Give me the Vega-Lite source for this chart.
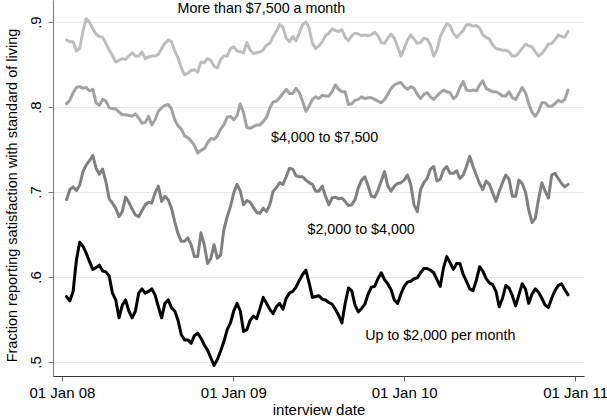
{
"$schema":"https://vega.github.io/schema/vega-lite/v6.json",
"width":531,"height":376,
"autosize":{"type":"none"},
"padding":{"left":53,"top":0,"right":23,"bottom":40},
"background":"white",
"config":{"view":{"stroke":null},"font":"Liberation Sans"},
"datasets":{
"a":[{"d":"2008-01-11","v":0.879},{"d":"2008-01-18","v":0.877},{"d":"2008-01-25","v":0.877},{"d":"2008-02-01","v":0.866},{"d":"2008-02-08","v":0.869},{"d":"2008-02-15","v":0.889},{"d":"2008-02-22","v":0.904},{"d":"2008-02-29","v":0.900},{"d":"2008-03-07","v":0.892},{"d":"2008-03-14","v":0.886},{"d":"2008-03-21","v":0.883},{"d":"2008-03-28","v":0.882},{"d":"2008-04-04","v":0.875},{"d":"2008-04-11","v":0.867},{"d":"2008-04-18","v":0.861},{"d":"2008-04-25","v":0.853},{"d":"2008-05-02","v":0.855},{"d":"2008-05-09","v":0.857},{"d":"2008-05-16","v":0.856},{"d":"2008-05-23","v":0.860},{"d":"2008-05-30","v":0.864},{"d":"2008-06-06","v":0.860},{"d":"2008-06-13","v":0.860},{"d":"2008-06-20","v":0.865},{"d":"2008-06-27","v":0.857},{"d":"2008-07-04","v":0.859},{"d":"2008-07-11","v":0.860},{"d":"2008-07-18","v":0.860},{"d":"2008-07-25","v":0.862},{"d":"2008-08-01","v":0.869},{"d":"2008-08-08","v":0.875},{"d":"2008-08-15","v":0.879},{"d":"2008-08-22","v":0.877},{"d":"2008-08-29","v":0.866},{"d":"2008-09-05","v":0.858},{"d":"2008-09-12","v":0.846},{"d":"2008-09-19","v":0.838},{"d":"2008-09-26","v":0.840},{"d":"2008-10-03","v":0.843},{"d":"2008-10-10","v":0.844},{"d":"2008-10-17","v":0.841},{"d":"2008-10-24","v":0.853},{"d":"2008-10-31","v":0.852},{"d":"2008-11-07","v":0.857},{"d":"2008-11-14","v":0.855},{"d":"2008-11-21","v":0.848},{"d":"2008-11-28","v":0.846},{"d":"2008-12-05","v":0.856},{"d":"2008-12-12","v":0.860},{"d":"2008-12-19","v":0.860},{"d":"2008-12-26","v":0.869},{"d":"2009-01-02","v":0.871},{"d":"2009-01-09","v":0.866},{"d":"2009-01-16","v":0.865},{"d":"2009-01-23","v":0.864},{"d":"2009-01-30","v":0.876},{"d":"2009-02-06","v":0.867},{"d":"2009-02-13","v":0.863},{"d":"2009-02-20","v":0.864},{"d":"2009-02-27","v":0.865},{"d":"2009-03-06","v":0.867},{"d":"2009-03-13","v":0.873},{"d":"2009-03-20","v":0.875},{"d":"2009-03-27","v":0.883},{"d":"2009-04-03","v":0.889},{"d":"2009-04-10","v":0.897},{"d":"2009-04-17","v":0.894},{"d":"2009-04-24","v":0.881},{"d":"2009-05-01","v":0.877},{"d":"2009-05-08","v":0.883},{"d":"2009-05-15","v":0.878},{"d":"2009-05-22","v":0.887},{"d":"2009-05-29","v":0.897},{"d":"2009-06-05","v":0.900},{"d":"2009-06-12","v":0.893},{"d":"2009-06-19","v":0.875},{"d":"2009-06-26","v":0.869},{"d":"2009-07-03","v":0.872},{"d":"2009-07-10","v":0.877},{"d":"2009-07-17","v":0.884},{"d":"2009-07-24","v":0.887},{"d":"2009-07-31","v":0.892},{"d":"2009-08-07","v":0.890},{"d":"2009-08-14","v":0.889},{"d":"2009-08-21","v":0.891},{"d":"2009-08-28","v":0.882},{"d":"2009-09-04","v":0.878},{"d":"2009-09-11","v":0.884},{"d":"2009-09-18","v":0.887},{"d":"2009-09-25","v":0.886},{"d":"2009-10-02","v":0.884},{"d":"2009-10-09","v":0.885},{"d":"2009-10-16","v":0.884},{"d":"2009-10-23","v":0.885},{"d":"2009-10-30","v":0.888},{"d":"2009-11-06","v":0.884},{"d":"2009-11-13","v":0.876},{"d":"2009-11-20","v":0.875},{"d":"2009-11-27","v":0.881},{"d":"2009-12-04","v":0.886},{"d":"2009-12-11","v":0.881},{"d":"2009-12-18","v":0.871},{"d":"2009-12-25","v":0.860},{"d":"2010-01-01","v":0.869},{"d":"2010-01-08","v":0.879},{"d":"2010-01-15","v":0.885},{"d":"2010-01-22","v":0.880},{"d":"2010-01-29","v":0.875},{"d":"2010-02-05","v":0.876},{"d":"2010-02-12","v":0.881},{"d":"2010-02-19","v":0.880},{"d":"2010-02-26","v":0.873},{"d":"2010-03-05","v":0.860},{"d":"2010-03-12","v":0.867},{"d":"2010-03-19","v":0.883},{"d":"2010-03-26","v":0.891},{"d":"2010-04-02","v":0.898},{"d":"2010-04-09","v":0.896},{"d":"2010-04-16","v":0.887},{"d":"2010-04-23","v":0.882},{"d":"2010-04-30","v":0.886},{"d":"2010-05-07","v":0.890},{"d":"2010-05-14","v":0.897},{"d":"2010-05-21","v":0.897},{"d":"2010-05-28","v":0.895},{"d":"2010-06-04","v":0.896},{"d":"2010-06-11","v":0.893},{"d":"2010-06-18","v":0.885},{"d":"2010-06-25","v":0.882},{"d":"2010-07-02","v":0.880},{"d":"2010-07-09","v":0.873},{"d":"2010-07-16","v":0.869},{"d":"2010-07-23","v":0.868},{"d":"2010-07-30","v":0.867},{"d":"2010-08-06","v":0.867},{"d":"2010-08-13","v":0.865},{"d":"2010-08-20","v":0.860},{"d":"2010-08-27","v":0.860},{"d":"2010-09-03","v":0.864},{"d":"2010-09-10","v":0.869},{"d":"2010-09-17","v":0.874},{"d":"2010-09-24","v":0.872},{"d":"2010-10-01","v":0.871},{"d":"2010-10-08","v":0.865},{"d":"2010-10-15","v":0.860},{"d":"2010-10-22","v":0.863},{"d":"2010-10-29","v":0.868},{"d":"2010-11-05","v":0.874},{"d":"2010-11-12","v":0.875},{"d":"2010-11-19","v":0.879},{"d":"2010-11-26","v":0.885},{"d":"2010-12-03","v":0.883},{"d":"2010-12-10","v":0.882},{"d":"2010-12-17","v":0.889}],
"b":[{"d":"2008-01-11","v":0.804},{"d":"2008-01-18","v":0.808},{"d":"2008-01-25","v":0.817},{"d":"2008-02-01","v":0.823},{"d":"2008-02-08","v":0.824},{"d":"2008-02-15","v":0.822},{"d":"2008-02-22","v":0.823},{"d":"2008-02-29","v":0.819},{"d":"2008-03-07","v":0.821},{"d":"2008-03-14","v":0.805},{"d":"2008-03-21","v":0.802},{"d":"2008-03-28","v":0.809},{"d":"2008-04-04","v":0.807},{"d":"2008-04-11","v":0.799},{"d":"2008-04-18","v":0.798},{"d":"2008-04-25","v":0.798},{"d":"2008-05-02","v":0.794},{"d":"2008-05-09","v":0.791},{"d":"2008-05-16","v":0.791},{"d":"2008-05-23","v":0.790},{"d":"2008-05-30","v":0.789},{"d":"2008-06-06","v":0.792},{"d":"2008-06-13","v":0.787},{"d":"2008-06-20","v":0.781},{"d":"2008-06-27","v":0.782},{"d":"2008-07-04","v":0.789},{"d":"2008-07-11","v":0.779},{"d":"2008-07-18","v":0.785},{"d":"2008-07-25","v":0.795},{"d":"2008-08-01","v":0.799},{"d":"2008-08-08","v":0.802},{"d":"2008-08-15","v":0.803},{"d":"2008-08-22","v":0.798},{"d":"2008-08-29","v":0.785},{"d":"2008-09-05","v":0.778},{"d":"2008-09-12","v":0.774},{"d":"2008-09-19","v":0.766},{"d":"2008-09-26","v":0.764},{"d":"2008-10-03","v":0.760},{"d":"2008-10-10","v":0.755},{"d":"2008-10-17","v":0.746},{"d":"2008-10-24","v":0.749},{"d":"2008-10-31","v":0.751},{"d":"2008-11-07","v":0.758},{"d":"2008-11-14","v":0.763},{"d":"2008-11-21","v":0.762},{"d":"2008-11-28","v":0.766},{"d":"2008-12-05","v":0.774},{"d":"2008-12-12","v":0.779},{"d":"2008-12-19","v":0.788},{"d":"2008-12-26","v":0.789},{"d":"2009-01-02","v":0.785},{"d":"2009-01-09","v":0.790},{"d":"2009-01-16","v":0.804},{"d":"2009-01-23","v":0.793},{"d":"2009-01-30","v":0.776},{"d":"2009-02-06","v":0.775},{"d":"2009-02-13","v":0.777},{"d":"2009-02-20","v":0.779},{"d":"2009-02-27","v":0.779},{"d":"2009-03-06","v":0.783},{"d":"2009-03-13","v":0.788},{"d":"2009-03-20","v":0.799},{"d":"2009-03-27","v":0.806},{"d":"2009-04-03","v":0.807},{"d":"2009-04-10","v":0.811},{"d":"2009-04-17","v":0.816},{"d":"2009-04-24","v":0.821},{"d":"2009-05-01","v":0.816},{"d":"2009-05-08","v":0.816},{"d":"2009-05-15","v":0.822},{"d":"2009-05-22","v":0.817},{"d":"2009-05-29","v":0.807},{"d":"2009-06-05","v":0.795},{"d":"2009-06-12","v":0.801},{"d":"2009-06-19","v":0.809},{"d":"2009-06-26","v":0.812},{"d":"2009-07-03","v":0.810},{"d":"2009-07-10","v":0.814},{"d":"2009-07-17","v":0.813},{"d":"2009-07-24","v":0.813},{"d":"2009-07-31","v":0.818},{"d":"2009-08-07","v":0.826},{"d":"2009-08-14","v":0.821},{"d":"2009-08-21","v":0.818},{"d":"2009-08-28","v":0.818},{"d":"2009-09-04","v":0.803},{"d":"2009-09-11","v":0.804},{"d":"2009-09-18","v":0.808},{"d":"2009-09-25","v":0.809},{"d":"2009-10-02","v":0.812},{"d":"2009-10-09","v":0.810},{"d":"2009-10-16","v":0.811},{"d":"2009-10-23","v":0.811},{"d":"2009-10-30","v":0.809},{"d":"2009-11-06","v":0.807},{"d":"2009-11-13","v":0.805},{"d":"2009-11-20","v":0.809},{"d":"2009-11-27","v":0.815},{"d":"2009-12-04","v":0.822},{"d":"2009-12-11","v":0.826},{"d":"2009-12-18","v":0.828},{"d":"2009-12-25","v":0.829},{"d":"2010-01-01","v":0.824},{"d":"2010-01-08","v":0.821},{"d":"2010-01-15","v":0.824},{"d":"2010-01-22","v":0.822},{"d":"2010-01-29","v":0.815},{"d":"2010-02-05","v":0.810},{"d":"2010-02-12","v":0.815},{"d":"2010-02-19","v":0.817},{"d":"2010-02-26","v":0.812},{"d":"2010-03-05","v":0.809},{"d":"2010-03-12","v":0.813},{"d":"2010-03-19","v":0.817},{"d":"2010-03-26","v":0.820},{"d":"2010-04-02","v":0.818},{"d":"2010-04-09","v":0.817},{"d":"2010-04-16","v":0.810},{"d":"2010-04-23","v":0.813},{"d":"2010-04-30","v":0.823},{"d":"2010-05-07","v":0.830},{"d":"2010-05-14","v":0.820},{"d":"2010-05-21","v":0.819},{"d":"2010-05-28","v":0.820},{"d":"2010-06-04","v":0.819},{"d":"2010-06-11","v":0.826},{"d":"2010-06-18","v":0.831},{"d":"2010-06-25","v":0.822},{"d":"2010-07-02","v":0.820},{"d":"2010-07-09","v":0.818},{"d":"2010-07-16","v":0.818},{"d":"2010-07-23","v":0.816},{"d":"2010-07-30","v":0.813},{"d":"2010-08-06","v":0.813},{"d":"2010-08-13","v":0.818},{"d":"2010-08-20","v":0.811},{"d":"2010-08-27","v":0.809},{"d":"2010-09-03","v":0.816},{"d":"2010-09-10","v":0.823},{"d":"2010-09-17","v":0.817},{"d":"2010-09-24","v":0.804},{"d":"2010-10-01","v":0.794},{"d":"2010-10-08","v":0.789},{"d":"2010-10-15","v":0.795},{"d":"2010-10-22","v":0.805},{"d":"2010-10-29","v":0.805},{"d":"2010-11-05","v":0.801},{"d":"2010-11-12","v":0.801},{"d":"2010-11-19","v":0.804},{"d":"2010-11-26","v":0.808},{"d":"2010-12-03","v":0.806},{"d":"2010-12-10","v":0.809},{"d":"2010-12-17","v":0.820}],
"c":[{"d":"2008-01-11","v":0.691},{"d":"2008-01-18","v":0.703},{"d":"2008-01-25","v":0.706},{"d":"2008-02-01","v":0.702},{"d":"2008-02-08","v":0.708},{"d":"2008-02-15","v":0.724},{"d":"2008-02-22","v":0.732},{"d":"2008-02-29","v":0.737},{"d":"2008-03-07","v":0.743},{"d":"2008-03-14","v":0.728},{"d":"2008-03-21","v":0.721},{"d":"2008-03-28","v":0.727},{"d":"2008-04-04","v":0.712},{"d":"2008-04-11","v":0.692},{"d":"2008-04-18","v":0.687},{"d":"2008-04-25","v":0.681},{"d":"2008-05-02","v":0.671},{"d":"2008-05-09","v":0.677},{"d":"2008-05-16","v":0.694},{"d":"2008-05-23","v":0.688},{"d":"2008-05-30","v":0.680},{"d":"2008-06-06","v":0.673},{"d":"2008-06-13","v":0.671},{"d":"2008-06-20","v":0.678},{"d":"2008-06-27","v":0.685},{"d":"2008-07-04","v":0.688},{"d":"2008-07-11","v":0.687},{"d":"2008-07-18","v":0.699},{"d":"2008-07-25","v":0.707},{"d":"2008-08-01","v":0.689},{"d":"2008-08-08","v":0.695},{"d":"2008-08-15","v":0.691},{"d":"2008-08-22","v":0.681},{"d":"2008-08-29","v":0.665},{"d":"2008-09-05","v":0.651},{"d":"2008-09-12","v":0.642},{"d":"2008-09-19","v":0.642},{"d":"2008-09-26","v":0.646},{"d":"2008-10-03","v":0.638},{"d":"2008-10-10","v":0.624},{"d":"2008-10-17","v":0.624},{"d":"2008-10-24","v":0.652},{"d":"2008-10-31","v":0.638},{"d":"2008-11-07","v":0.616},{"d":"2008-11-14","v":0.622},{"d":"2008-11-21","v":0.638},{"d":"2008-11-28","v":0.622},{"d":"2008-12-05","v":0.626},{"d":"2008-12-12","v":0.656},{"d":"2008-12-19","v":0.671},{"d":"2008-12-26","v":0.683},{"d":"2009-01-02","v":0.699},{"d":"2009-01-09","v":0.709},{"d":"2009-01-16","v":0.701},{"d":"2009-01-23","v":0.685},{"d":"2009-01-30","v":0.690},{"d":"2009-02-06","v":0.688},{"d":"2009-02-13","v":0.682},{"d":"2009-02-20","v":0.676},{"d":"2009-02-27","v":0.675},{"d":"2009-03-06","v":0.681},{"d":"2009-03-13","v":0.677},{"d":"2009-03-20","v":0.685},{"d":"2009-03-27","v":0.701},{"d":"2009-04-03","v":0.705},{"d":"2009-04-10","v":0.711},{"d":"2009-04-17","v":0.709},{"d":"2009-04-24","v":0.718},{"d":"2009-05-01","v":0.728},{"d":"2009-05-08","v":0.727},{"d":"2009-05-15","v":0.719},{"d":"2009-05-22","v":0.718},{"d":"2009-05-29","v":0.718},{"d":"2009-06-05","v":0.714},{"d":"2009-06-12","v":0.711},{"d":"2009-06-19","v":0.709},{"d":"2009-06-26","v":0.701},{"d":"2009-07-03","v":0.701},{"d":"2009-07-10","v":0.707},{"d":"2009-07-17","v":0.695},{"d":"2009-07-24","v":0.685},{"d":"2009-07-31","v":0.693},{"d":"2009-08-07","v":0.694},{"d":"2009-08-14","v":0.692},{"d":"2009-08-21","v":0.693},{"d":"2009-08-28","v":0.689},{"d":"2009-09-04","v":0.684},{"d":"2009-09-11","v":0.685},{"d":"2009-09-18","v":0.691},{"d":"2009-09-25","v":0.705},{"d":"2009-10-02","v":0.714},{"d":"2009-10-09","v":0.718},{"d":"2009-10-16","v":0.707},{"d":"2009-10-23","v":0.695},{"d":"2009-10-30","v":0.694},{"d":"2009-11-06","v":0.702},{"d":"2009-11-13","v":0.713},{"d":"2009-11-20","v":0.724},{"d":"2009-11-27","v":0.707},{"d":"2009-12-04","v":0.701},{"d":"2009-12-11","v":0.707},{"d":"2009-12-18","v":0.710},{"d":"2009-12-25","v":0.711},{"d":"2010-01-01","v":0.714},{"d":"2010-01-08","v":0.720},{"d":"2010-01-15","v":0.709},{"d":"2010-01-22","v":0.685},{"d":"2010-01-29","v":0.677},{"d":"2010-02-05","v":0.703},{"d":"2010-02-12","v":0.711},{"d":"2010-02-19","v":0.716},{"d":"2010-02-26","v":0.727},{"d":"2010-03-05","v":0.730},{"d":"2010-03-12","v":0.713},{"d":"2010-03-19","v":0.715},{"d":"2010-03-26","v":0.726},{"d":"2010-04-02","v":0.730},{"d":"2010-04-09","v":0.722},{"d":"2010-04-16","v":0.722},{"d":"2010-04-23","v":0.725},{"d":"2010-04-30","v":0.716},{"d":"2010-05-07","v":0.720},{"d":"2010-05-14","v":0.730},{"d":"2010-05-21","v":0.742},{"d":"2010-05-28","v":0.730},{"d":"2010-06-04","v":0.720},{"d":"2010-06-11","v":0.710},{"d":"2010-06-18","v":0.703},{"d":"2010-06-25","v":0.713},{"d":"2010-07-02","v":0.709},{"d":"2010-07-09","v":0.699},{"d":"2010-07-16","v":0.689},{"d":"2010-07-23","v":0.701},{"d":"2010-07-30","v":0.711},{"d":"2010-08-06","v":0.720},{"d":"2010-08-13","v":0.715},{"d":"2010-08-20","v":0.695},{"d":"2010-08-27","v":0.695},{"d":"2010-09-03","v":0.714},{"d":"2010-09-10","v":0.710},{"d":"2010-09-17","v":0.700},{"d":"2010-09-24","v":0.679},{"d":"2010-10-01","v":0.664},{"d":"2010-10-08","v":0.669},{"d":"2010-10-15","v":0.692},{"d":"2010-10-22","v":0.711},{"d":"2010-10-29","v":0.701},{"d":"2010-11-05","v":0.693},{"d":"2010-11-12","v":0.720},{"d":"2010-11-19","v":0.722},{"d":"2010-11-26","v":0.716},{"d":"2010-12-03","v":0.710},{"d":"2010-12-10","v":0.706},{"d":"2010-12-17","v":0.709}],
"e":[{"d":"2008-01-11","v":0.577},{"d":"2008-01-18","v":0.572},{"d":"2008-01-25","v":0.583},{"d":"2008-02-01","v":0.620},{"d":"2008-02-08","v":0.641},{"d":"2008-02-15","v":0.636},{"d":"2008-02-22","v":0.628},{"d":"2008-02-29","v":0.618},{"d":"2008-03-07","v":0.609},{"d":"2008-03-14","v":0.611},{"d":"2008-03-21","v":0.614},{"d":"2008-03-28","v":0.607},{"d":"2008-04-04","v":0.606},{"d":"2008-04-11","v":0.601},{"d":"2008-04-18","v":0.581},{"d":"2008-04-25","v":0.573},{"d":"2008-05-02","v":0.552},{"d":"2008-05-09","v":0.567},{"d":"2008-05-16","v":0.573},{"d":"2008-05-23","v":0.560},{"d":"2008-05-30","v":0.552},{"d":"2008-06-06","v":0.560},{"d":"2008-06-13","v":0.581},{"d":"2008-06-20","v":0.586},{"d":"2008-06-27","v":0.581},{"d":"2008-07-04","v":0.583},{"d":"2008-07-11","v":0.586},{"d":"2008-07-18","v":0.579},{"d":"2008-07-25","v":0.565},{"d":"2008-08-01","v":0.552},{"d":"2008-08-08","v":0.569},{"d":"2008-08-15","v":0.573},{"d":"2008-08-22","v":0.564},{"d":"2008-08-29","v":0.560},{"d":"2008-09-05","v":0.549},{"d":"2008-09-12","v":0.532},{"d":"2008-09-19","v":0.526},{"d":"2008-09-26","v":0.526},{"d":"2008-10-03","v":0.522},{"d":"2008-10-10","v":0.531},{"d":"2008-10-17","v":0.534},{"d":"2008-10-24","v":0.528},{"d":"2008-10-31","v":0.520},{"d":"2008-11-07","v":0.514},{"d":"2008-11-14","v":0.505},{"d":"2008-11-21","v":0.496},{"d":"2008-11-28","v":0.503},{"d":"2008-12-05","v":0.513},{"d":"2008-12-12","v":0.524},{"d":"2008-12-19","v":0.538},{"d":"2008-12-26","v":0.546},{"d":"2009-01-02","v":0.560},{"d":"2009-01-09","v":0.569},{"d":"2009-01-16","v":0.560},{"d":"2009-01-23","v":0.536},{"d":"2009-01-30","v":0.538},{"d":"2009-02-06","v":0.549},{"d":"2009-02-13","v":0.554},{"d":"2009-02-20","v":0.551},{"d":"2009-02-27","v":0.563},{"d":"2009-03-06","v":0.576},{"d":"2009-03-13","v":0.569},{"d":"2009-03-20","v":0.562},{"d":"2009-03-27","v":0.557},{"d":"2009-04-03","v":0.565},{"d":"2009-04-10","v":0.569},{"d":"2009-04-17","v":0.562},{"d":"2009-04-24","v":0.575},{"d":"2009-05-01","v":0.581},{"d":"2009-05-08","v":0.583},{"d":"2009-05-15","v":0.588},{"d":"2009-05-22","v":0.596},{"d":"2009-05-29","v":0.603},{"d":"2009-06-05","v":0.608},{"d":"2009-06-12","v":0.593},{"d":"2009-06-19","v":0.576},{"d":"2009-06-26","v":0.577},{"d":"2009-07-03","v":0.578},{"d":"2009-07-10","v":0.574},{"d":"2009-07-17","v":0.573},{"d":"2009-07-24","v":0.570},{"d":"2009-07-31","v":0.568},{"d":"2009-08-07","v":0.562},{"d":"2009-08-14","v":0.555},{"d":"2009-08-21","v":0.546},{"d":"2009-08-28","v":0.569},{"d":"2009-09-04","v":0.587},{"d":"2009-09-11","v":0.584},{"d":"2009-09-18","v":0.567},{"d":"2009-09-25","v":0.559},{"d":"2009-10-02","v":0.563},{"d":"2009-10-09","v":0.568},{"d":"2009-10-16","v":0.580},{"d":"2009-10-23","v":0.588},{"d":"2009-10-30","v":0.589},{"d":"2009-11-06","v":0.598},{"d":"2009-11-13","v":0.605},{"d":"2009-11-20","v":0.597},{"d":"2009-11-27","v":0.592},{"d":"2009-12-04","v":0.585},{"d":"2009-12-11","v":0.573},{"d":"2009-12-18","v":0.569},{"d":"2009-12-25","v":0.580},{"d":"2010-01-01","v":0.589},{"d":"2010-01-08","v":0.594},{"d":"2010-01-15","v":0.595},{"d":"2010-01-22","v":0.598},{"d":"2010-01-29","v":0.599},{"d":"2010-02-05","v":0.605},{"d":"2010-02-12","v":0.610},{"d":"2010-02-19","v":0.610},{"d":"2010-02-26","v":0.608},{"d":"2010-03-05","v":0.605},{"d":"2010-03-12","v":0.597},{"d":"2010-03-19","v":0.589},{"d":"2010-03-26","v":0.611},{"d":"2010-04-02","v":0.624},{"d":"2010-04-09","v":0.617},{"d":"2010-04-16","v":0.609},{"d":"2010-04-23","v":0.616},{"d":"2010-04-30","v":0.616},{"d":"2010-05-07","v":0.603},{"d":"2010-05-14","v":0.595},{"d":"2010-05-21","v":0.586},{"d":"2010-05-28","v":0.584},{"d":"2010-06-04","v":0.596},{"d":"2010-06-11","v":0.612},{"d":"2010-06-18","v":0.607},{"d":"2010-06-25","v":0.598},{"d":"2010-07-02","v":0.593},{"d":"2010-07-09","v":0.591},{"d":"2010-07-16","v":0.583},{"d":"2010-07-23","v":0.565},{"d":"2010-07-30","v":0.575},{"d":"2010-08-06","v":0.590},{"d":"2010-08-13","v":0.587},{"d":"2010-08-20","v":0.578},{"d":"2010-08-27","v":0.566},{"d":"2010-09-03","v":0.579},{"d":"2010-09-10","v":0.592},{"d":"2010-09-17","v":0.586},{"d":"2010-09-24","v":0.569},{"d":"2010-10-01","v":0.580},{"d":"2010-10-08","v":0.586},{"d":"2010-10-15","v":0.582},{"d":"2010-10-22","v":0.575},{"d":"2010-10-29","v":0.567},{"d":"2010-11-05","v":0.564},{"d":"2010-11-12","v":0.575},{"d":"2010-11-19","v":0.584},{"d":"2010-11-26","v":0.590},{"d":"2010-12-03","v":0.592},{"d":"2010-12-10","v":0.585},{"d":"2010-12-17","v":0.579}],
"labels":[{"d":"2009-03-02","v":0.9112,"t":"More than $7,500 a month"},{"d":"2009-07-15","v":0.7592,"t":"$4,000 to $7,500"},{"d":"2009-10-01","v":0.6506,"t":"$2,000 to $4,000"},{"d":"2010-03-19","v":0.5259,"t":"Up to $2,000 per month"}]
},
"encoding":{
"x":{"field":"d","type":"temporal",
"scale":{"type":"utc","domain":[{"year":2007,"month":12,"date":13,"utc":true},{"year":2011,"month":1,"date":20,"utc":true}]},
"axis":{"title":"interview date","values":[{"year":2008,"month":1,"date":1,"utc":true},{"year":2009,"month":1,"date":1,"utc":true},{"year":2010,"month":1,"date":1,"utc":true},{"year":2011,"month":1,"date":1,"utc":true}],"labelExpr":"utcFormat(datum.value, '%d %b %y')","grid":false,"domainColor":"#333333","tickColor":"#666666","tickSize":5,"labelFontSize":15,"labelColor":"#000000","labelPadding":4,"labelFlush":false,"labelOverlap":false,"titleFontSize":15,"titleFontWeight":"normal","titleColor":"#000000","titlePadding":2}},
"y":{"field":"v","type":"quantitative",
"scale":{"domain":[0.4835,0.926],"nice":false,"zero":false},
"axis":{"title":"Fraction reporting satisfaction with standard of living","values":[0.5,0.6,0.7,0.8,0.9],"labelExpr":"substring(format(datum.value, '.1f'), 1)","labelAngle":-90,"labelAlign":"center","labelBaseline":"bottom","labelFontSize":15,"labelColor":"#000000","labelPadding":5,"grid":true,"gridColor":"#e8e8e8","gridWidth":1,"domainColor":"#777777","tickColor":"#777777","tickSize":5,"titleFontSize":14.5,"titleFontWeight":"normal","titleColor":"#000000","titlePadding":9,"titleY":195}}
},
"layer":[
{"data":{"name":"a"},"mark":{"type":"line","color":"#bdbdbd","strokeWidth":3,"strokeJoin":"round","strokeCap":"round"}},
{"data":{"name":"b"},"mark":{"type":"line","color":"#a2a2a2","strokeWidth":3,"strokeJoin":"round","strokeCap":"round"}},
{"data":{"name":"c"},"mark":{"type":"line","color":"#808080","strokeWidth":3,"strokeJoin":"round","strokeCap":"round"}},
{"data":{"name":"e"},"mark":{"type":"line","color":"#000000","strokeWidth":3,"strokeJoin":"round","strokeCap":"round"}},
{"data":{"name":"labels"},"mark":{"type":"text","font":"Liberation Sans","fontSize":14.3,"color":"#000000","align":"center","baseline":"alphabetic"},"encoding":{"text":{"field":"t"}}}
]
}
